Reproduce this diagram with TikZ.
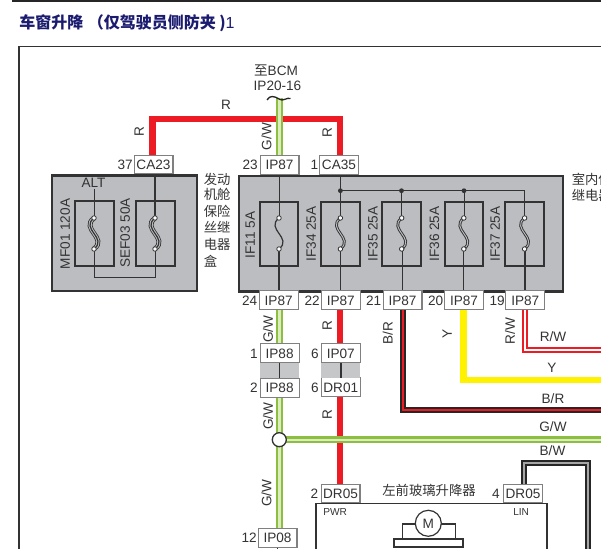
\documentclass[tikz,border=0pt]{standalone}
\usepackage{fontspec}
\setmainfont{Liberation Sans}
\newfontfamily\cjk{Noto Sans CJK SC}
\usetikzlibrary{backgrounds}
\definecolor{ink}{HTML}{333333}
\definecolor{boxgray}{HTML}{BCBDC0}
\definecolor{gapgray}{HTML}{C6C7C9}
\definecolor{wred}{HTML}{ED1C24}
\definecolor{wgreen}{HTML}{8CBE3F}
\definecolor{wgreenc}{HTML}{DCEBC0}
\definecolor{wyellow}{HTML}{FFF200}
\definecolor{navy}{HTML}{1B1B6F}
\tikzset{
  lab/.style={text=ink,font=\fontsize{10.2pt}{11pt}\selectfont,inner sep=0pt,text height=7.3pt,text depth=0pt},
  small/.style={lab,font=\fontsize{7.6pt}{9pt}\selectfont,text height=5.6pt},
  vlab/.style={lab,rotate=90},
  cjklab/.style={text=ink,font=\fontsize{10pt}{11pt}\selectfont\cjk,inner sep=0pt},
  conn/.style={lab,draw=black!50,fill=white,line width=.8pt,minimum width=29.2pt,minimum height=14pt},
  gbox/.style={draw=ink,line width=1.7pt,fill=boxgray,inner sep=0pt},
  fbox/.style={draw=ink,line width=1.5pt,inner sep=0pt,minimum width=29pt,minimum height=48.5pt},
  gapbox/.style={fill=gapgray,inner sep=0pt,minimum width=29pt,minimum height=11pt},
  thinw/.style={draw=ink,line width=.75pt},
  rwire/.style={draw=wred,line width=4.9pt},
  gwire/.style={draw=wgreen,line width=1.7pt,double=wgreenc,double distance=1.6pt},
  ywire/.style={draw=wyellow,line width=4.9pt},
  brwire/.style={draw=black!85,line width=1.4pt,double=wred,double distance=1.8pt},
  rwwire/.style={draw=wred,line width=1.6pt,double=white,double distance=1.3pt},
  bwwire/.style={draw=black!85,line width=1.4pt,double=black!35,double distance=1.7pt},
  frame/.style={draw=ink,line width=1.1pt},
  dot/.style={circle,fill=ink,inner sep=0pt,minimum size=3.6pt},
  fusedot/.style={circle,draw=ink,fill=white,line width=.6pt,inner sep=0pt,minimum size=3.4pt},
}
% fuse link: x position, strand style
\newcommand{\fuselink}[2]{%
  \foreach \st in {#2}{\draw[\st] (#1,218) .. controls (#1-14,229) and (#1+14,238) .. (#1,249);}%
  \node[fusedot] at (#1,218) {};\node[fusedot] at (#1,249) {};}
\tikzset{
  s1/.style={draw=ink,line width=.9pt},
  d1/.style={draw=ink,line width=2.1pt},
  d2/.style={draw=boxgray,line width=.7pt},
  t1/.style={draw=ink,line width=3.6pt},
  t2/.style={draw=boxgray,line width=2.4pt},
  t3/.style={draw=ink,line width=.9pt},
}
\begin{document}
\begin{tikzpicture}[x=.75pt,y=-.75pt]
\useasboundingbox (0,0) rectangle (601,549);
% title and page rules
\coordinate (tl0) at (12,.8); \coordinate (tl1) at (601,.8);
\draw[draw=black!85,line width=1.5pt] (tl0) -- (tl1);
\coordinate (fa) at (19,549); \coordinate (fb) at (19,46.5); \coordinate (fc) at (601,46.5);
\draw[frame] (fa) -- (fb) -- (fc);
\node[anchor=west,inner sep=0pt,text=navy,font=\fontsize{12pt}{14pt}\selectfont] (title) at (19,23)
  {{\cjk\bfseries 车窗升降\hspace{3.5pt}（仅驾驶员侧防夹\hspace{2.5pt}}{\cjk\bfseries )}1};
% housings
\node[gbox,anchor=north west,minimum width=108.5pt,minimum height=86.5pt] (relayL) at (51,174.5) {};
\node[gbox,anchor=north west,minimum width=243pt,minimum height=86.5pt] (relayR) at (237.5,175) {};
% fuse boxes
\node[fbox] (mf01) at (94.3,233.5) {};
\node[fbox] (sef03) at (155.3,233.5) {};
\node[fbox] (if11) at (279,234) {};
\node[fbox] (if34) at (340.5,234) {};
\node[fbox] (if35) at (401.7,234) {};
\node[fbox] (if36) at (464,234) {};
\node[fbox] (if37) at (524.2,234) {};
% connectors
\node[conn] (ca23) at (153.5,164.5) {CA23};
\node[conn] (ipa) at (279.5,165) {IP87};
\node[conn] (ca35) at (339,165) {CA35};
\node[conn] (ipb) at (278.7,300.3) {IP87};
\node[conn] (ipc) at (340.8,300.3) {IP87};
\node[conn] (ipd) at (402.5,300.3) {IP87};
\node[conn] (ipe) at (464,300.3) {IP87};
\node[conn] (ipf) at (525.3,300.3) {IP87};
\node[conn] (ip88a) at (279.6,353.3) {IP88};
\node[conn] (ip88b) at (279.6,388) {IP88};
\node[conn] (ip07) at (340.8,353.3) {IP07};
\node[conn] (dr01) at (340.8,387.2) {DR01};
\node[conn] (dr05a) at (340.5,493.5) {DR05};
\node[conn] (dr05b) at (523,493.5) {DR05};
\node[conn] (ip08) at (277.5,537.8) {IP08};
% connector gaps
\node[gapbox] (gapa) at (279.6,370.5) {};
\node[gapbox] (gapb) at (340.8,370.5) {};
\draw[draw=black!80,line width=1.1pt] (gapa.north) -- (gapa.south);
\draw[draw=black!80,line width=1.1pt] (gapb.north) -- (gapb.south);
% pin numbers
\node[lab,anchor=east] at (133,164.5) {37};
\node[lab,anchor=east] at (258,165) {23};
\node[lab,anchor=east] at (318.5,165) {1};
\node[lab,anchor=east] at (257.5,300.3) {24};
\node[lab,anchor=east] at (320,300.3) {22};
\node[lab,anchor=east] at (381.5,300.3) {21};
\node[lab,anchor=east] at (443.5,300.3) {20};
\node[lab,anchor=east] at (505,300.3) {19};
\node[lab,anchor=east] at (258,353.3) {1};
\node[lab,anchor=east] at (258,388) {2};
\node[lab,anchor=east] at (319,353.3) {6};
\node[lab,anchor=east] at (319,387.2) {6};
\node[lab,anchor=east] at (318.5,493.5) {2};
\node[lab,anchor=east] at (500,493.5) {4};
\node[lab,anchor=east] at (257,537.8) {12};
% junction
\node[circle,draw=ink,fill=white,line width=1pt,inner sep=0pt,minimum size=10.5pt] (jn) at (279.3,439.7) {};
% far ends
\coordinate (ebrk) at (279.5,98);
\coordinate (rtl) at (152.4,119); \coordinate (rtr) at (340,119);
\coordinate (brc) at (402.7,410.3); \coordinate (bre) at (601,410.3);
\coordinate (yc) at (463.5,380); \coordinate (ye) at (601,380);
\coordinate (rwc) at (525,350); \coordinate (rwe) at (601,350);
\coordinate (gwe) at (601,439.7);
\coordinate (bwa) at (523.7,462.8); \coordinate (bwb) at (587.8,462.8); \coordinate (bwc) at (587.8,549);
\begin{pgfonlayer}{background}
\draw[rwire] (rtl |- ca23.north) -- (rtl) -- (rtr) -- (rtr |- ca35.north);
\draw[rwire] (rtr |- ipc.south) -- (rtr |- ip07.north);
\draw[rwire] (rtr |- dr01.south) -- (rtr |- dr05a.north);
\draw[gwire] (ebrk) -- (ebrk |- ipa.north);
\draw[gwire] (ebrk |- ipb.south) -- (ebrk |- ip88a.north);
\draw[gwire] (ebrk |- ip88b.south) -- (ebrk |- ip08.north);
\draw[gwire] (jn.center) -- (gwe);
\draw[brwire] (brc |- ipd.south) -- (brc) -- (bre);
\draw[ywire] (yc |- ipe.south) -- (yc) -- (ye);
\draw[rwwire] (rwc |- ipf.south) -- (rwc) -- (rwe);
\draw[bwwire] (bwa |- dr05b.north) -- (bwa) -- (bwb) -- (bwc);
\end{pgfonlayer}
% wire break mark
\draw[draw=black!85,line width=1pt] (267,100) .. controls (270,95) and (274,96) .. (279,99) .. controls (283,102) and (287,97) .. (290.5,98.5);
% inner circuit, left housing
\coordinate (altt) at (94,189); \coordinate (lo) at (94,278); \coordinate (lr) at (155,278);
\draw[thinw] (altt) -- (94,218);
\draw[thinw] (94,249) -- (lo) -- (lr) -- (155,249);
\draw[thinw,line width=1pt] (155,218) -- (155,0 |- ca23.south);
\fuselink{94}{t1,t2,t3}
\fuselink{155}{t1,t2,t3}
% inner circuit, right housing
\draw[thinw,line width=1pt] (279.3,218) -- (279.3,0 |- ipa.south);
\draw[thinw,line width=1pt] (279,249) -- (279,0 |- ipb.north);
\fuselink{279}{s1}
\draw[thinw,line width=1pt] (340.4,218) -- (340.4,0 |- ca35.south);
\draw[thinw,line width=1pt] (340.4,249) -- (340.4,0 |- ipc.north);
\fuselink{340.4}{d1,d2}
\draw[thinw,line width=1pt] (401.5,218) -- (401.5,190.7);
\draw[thinw] (402,249) -- (402,0 |- ipd.north);
\fuselink{401.7}{d1,d2}
\draw[thinw] (464,218) -- (464,190.7);
\draw[thinw] (463.5,249) -- (463.5,0 |- ipe.north);
\fuselink{463.8}{d1,d2}
\draw[thinw] (340.4,190.7) -- (524.3,190.7) -- (524.3,218);
\draw[thinw,line width=1pt] (525,249) -- (525,0 |- ipf.north);
\fuselink{524.6}{d1,d2}
\node[dot] at (340.4,190.7) {};
\node[dot] at (401.5,190.7) {};
\node[dot] at (464,190.7) {};
\draw[thinw] (ip08.south) -- (ip08.south |- 0,549);
% module
\coordinate (ma) at (316,549); \coordinate (mb) at (316,503.5); \coordinate (mc) at (546.7,503.5); \coordinate (md) at (546.7,549);
\draw[frame,line width=1.2pt] (ma) -- (mb) -- (mc) -- (md);
\coordinate (ba) at (402.8,538.5); \coordinate (bb) at (402.8,524); \coordinate (bc) at (455.7,524); \coordinate (bd) at (455.7,538.5);
\draw[frame,line width=.9pt] (ba) -- (bb) -- (bc) -- (bd);
\draw[draw=ink,line width=1.5pt,fill=white] (394,539) rectangle (462.7,547.5);
\node[circle,draw=ink,fill=white,line width=.9pt,inner sep=0pt,minimum size=19.5pt,lab] (motor) at (428.3,523.3) {M};
% labels
\node[lab] at (226,104.5) {R};
\node[vlab] at (139,132) {R};
\node[vlab] at (266.5,136.5) {G/W};
\node[vlab] at (327,133) {R};
\node[lab] at (93.5,183) {ALT};
\node[vlab] at (65,234) {MF01 120A};
\node[vlab] at (125,233) {SEF03 50A};
\node[vlab] at (250,235) {IF11 5A};
\node[vlab] at (311,234) {IF34 25A};
\node[vlab] at (372.7,234) {IF35 25A};
\node[vlab] at (434.3,234) {IF36 25A};
\node[vlab] at (495,234) {IF37 25A};
\node[vlab] at (268,329) {G/W};
\node[vlab] at (327,326) {R};
\node[vlab] at (387.7,333) {B/R};
\node[vlab] at (268,416) {G/W};
\node[vlab] at (327,414.5) {R};
\node[vlab] at (266.5,493) {G/W};
\node[vlab] at (447,334) {Y};
\node[vlab] at (510,331) {R/W};
\node[lab] at (553,337) {R/W};
\node[lab] at (552,367.5) {Y};
\node[lab] at (553,398.5) {B/R};
\node[lab] at (553,426.5) {G/W};
\node[lab] at (552.5,451) {B/W};
\node[small,anchor=west] at (323,511.5) {PWR};
\node[small,anchor=west] at (513,511.5) {LIN};
\node[lab,anchor=center] at (276,70.5) {{\cjk 至}BCM};
\node[lab,anchor=center] at (277.5,86) {IP20-16};
\node[cjklab,anchor=center] at (429,490) {左前玻璃升降器};
\foreach \t/\yy in {发动/179,机舱/194.5,保险/211,丝继/227.5,电器/244.5}
  \node[cjklab,anchor=west] at (203.5,\yy) {\t};
\node[cjklab,anchor=west] at (203.5,261) {盒};
\node[cjklab,anchor=west] at (571.5,179) {室内保};
\node[cjklab,anchor=west] at (571.5,195.5) {继电器};
\end{tikzpicture}
\end{document}
